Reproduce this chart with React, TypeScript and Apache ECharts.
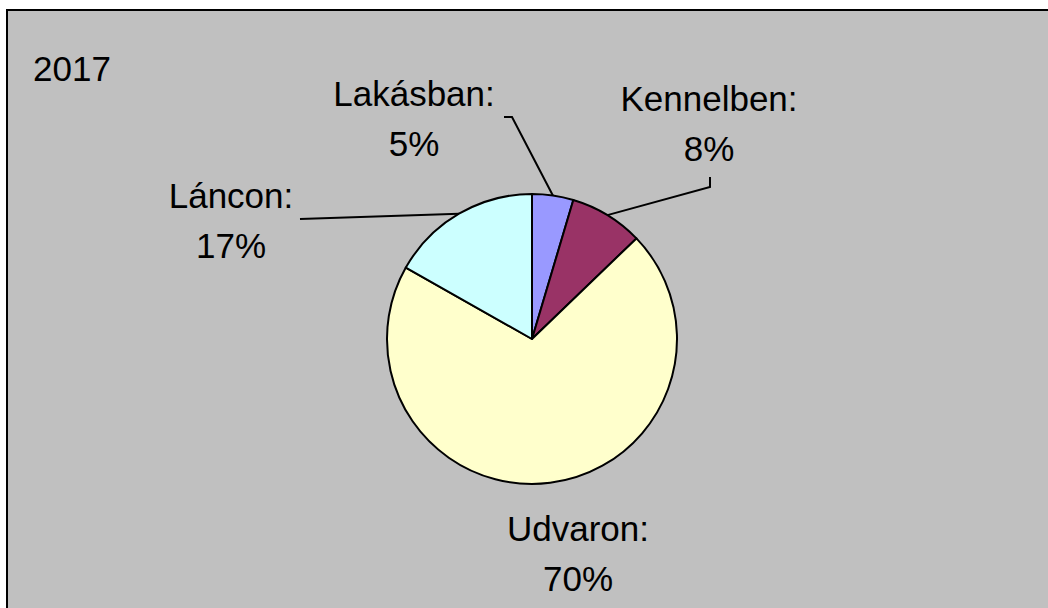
import React, { useEffect, useRef } from "react";
import * as echarts from "echarts";

const categories = ["Lakásban", "Kennelben", "Udvaron", "Láncon"];
const values = [4.6, 8.2, 70.4, 16.8];
const colors = ["#9999FF", "#993366", "#FFFFCC", "#CCFFFF"];
const showLeader = [true, true, false, true];
const yearTitle = "2017";

// label placement (layout, not data)
const labelPos: [number, number][] = [
  [414, 118],
  [709, 123],
  [578, 553],
  [231, 220],
];
const leaderBends: [number, number][][] = [
  [[512, 117], [504, 117]],
  [[710, 187], [710, 177]],
  [],
  [[300, 219], [300, 219]],
];

const FONT = "'Liberation Sans', Arial, Helvetica, sans-serif";

export default function App() {
  const ref = useRef<HTMLDivElement>(null);
  useEffect(() => {
    document.body.style.margin = "0";
    const chart = echarts.init(ref.current!, undefined, { renderer: "svg" });
    chart.setOption({
      animation: false,
      backgroundColor: "#FFFFFF",
      graphic: [
        {
          type: "rect",
          z: -10,
          shape: { x: 7, y: 10, width: 1100, height: 700 },
          style: { fill: "#C0C0C0", stroke: "#000000", lineWidth: 2 },
        },
        {
          type: "text",
          z: 10,
          x: 33,
          y: 68,
          style: {
            text: yearTitle,
            font: `35px ${FONT}`,
            fill: "#000000",
            verticalAlign: "middle",
            align: "left",
          },
        },
      ],
      series: [
        {
          type: "pie",
          center: [532, 339],
          radius: 145,
          startAngle: 90,
          clockwise: true,
          avoidLabelOverlap: false,
          itemStyle: { borderColor: "#000000", borderWidth: 2 },
          label: {
            show: true,
            position: "outside",
            fontFamily: FONT,
            fontSize: 35,
            lineHeight: 50,
            color: "#000000",
            align: "center",
            formatter: (p: any) => `${p.name}:\n${Math.round(p.percent)}%`,
          },
          labelLine: {
            show: true,
            length: 10,
            length2: 10,
            lineStyle: { color: "#000000", width: 2 },
          },
          labelLayout: (p: any) => {
            const i = p.dataIndex;
            const res: any = {
              x: labelPos[i][0],
              y: labelPos[i][1],
              align: "center",
              verticalAlign: "middle",
            };
            if (showLeader[i] && p.labelLinePoints) {
              res.labelLinePoints = [p.labelLinePoints[0], ...leaderBends[i]];
            }
            return res;
          },
          data: categories.map((c, i) => ({
            name: c,
            value: values[i],
            itemStyle: { color: colors[i] },
            labelLine: { show: showLeader[i] },
          })),
        },
      ],
    });
    return () => chart.dispose();
  }, []);
  return (
    <div
      ref={ref}
      style={{ position: "fixed", left: 0, top: 0, width: 1048, height: 608 }}
    />
  );
}
